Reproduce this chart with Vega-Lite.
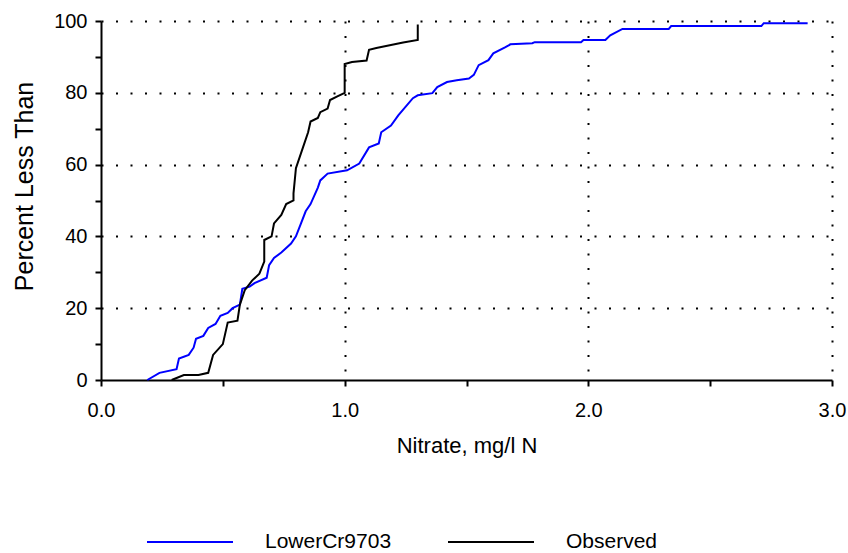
{
  "$schema": "https://vega.github.io/schema/vega-lite/v6.json",
  "width": 731,
  "height": 359,
  "autosize": "none",
  "padding": {"left": 101, "top": 21, "right": 16, "bottom": 173},
  "background": "white",
  "config": {
    "view": {"stroke": null},
    "font": "Liberation Sans",
    "axis": {
      "domainColor": "black",
      "domainWidth": 2,
      "tickColor": "black",
      "tickWidth": 2,
      "tickSize": 6,
      "labelColor": "black",
      "titleColor": "black",
      "labelFont": "Liberation Sans",
      "titleFont": "Liberation Sans",
      "labelFontSize": 20,
      "titleFontWeight": "normal",
      "gridColor": "black",
      "gridWidth": 2,
      "gridDash": [2, 12.5]
    }
  },
  "data": {
    "values": [
      {"series": "LowerCr9703", "x": 0.19, "y": 0},
      {"series": "LowerCr9703", "x": 0.24, "y": 2},
      {"series": "LowerCr9703", "x": 0.31, "y": 3},
      {"series": "LowerCr9703", "x": 0.32, "y": 6},
      {"series": "LowerCr9703", "x": 0.36, "y": 7},
      {"series": "LowerCr9703", "x": 0.38, "y": 9},
      {"series": "LowerCr9703", "x": 0.39, "y": 11.5},
      {"series": "LowerCr9703", "x": 0.42, "y": 12.3},
      {"series": "LowerCr9703", "x": 0.44, "y": 14.5},
      {"series": "LowerCr9703", "x": 0.47, "y": 15.6},
      {"series": "LowerCr9703", "x": 0.49, "y": 17.9},
      {"series": "LowerCr9703", "x": 0.52, "y": 18.7},
      {"series": "LowerCr9703", "x": 0.54, "y": 20},
      {"series": "LowerCr9703", "x": 0.57, "y": 21},
      {"series": "LowerCr9703", "x": 0.58, "y": 25.4},
      {"series": "LowerCr9703", "x": 0.61, "y": 26},
      {"series": "LowerCr9703", "x": 0.63, "y": 27},
      {"series": "LowerCr9703", "x": 0.68, "y": 28.5},
      {"series": "LowerCr9703", "x": 0.69, "y": 32},
      {"series": "LowerCr9703", "x": 0.71, "y": 34},
      {"series": "LowerCr9703", "x": 0.74, "y": 35.5},
      {"series": "LowerCr9703", "x": 0.78, "y": 38},
      {"series": "LowerCr9703", "x": 0.80, "y": 40},
      {"series": "LowerCr9703", "x": 0.82, "y": 43.5},
      {"series": "LowerCr9703", "x": 0.84, "y": 47},
      {"series": "LowerCr9703", "x": 0.86, "y": 49},
      {"series": "LowerCr9703", "x": 0.89, "y": 53.6},
      {"series": "LowerCr9703", "x": 0.90, "y": 55.6},
      {"series": "LowerCr9703", "x": 0.93, "y": 57.5},
      {"series": "LowerCr9703", "x": 1.01, "y": 58.4},
      {"series": "LowerCr9703", "x": 1.06, "y": 60.3},
      {"series": "LowerCr9703", "x": 1.10, "y": 64.8},
      {"series": "LowerCr9703", "x": 1.14, "y": 65.9},
      {"series": "LowerCr9703", "x": 1.15, "y": 69},
      {"series": "LowerCr9703", "x": 1.19, "y": 70.9},
      {"series": "LowerCr9703", "x": 1.22, "y": 73.7},
      {"series": "LowerCr9703", "x": 1.28, "y": 78.5},
      {"series": "LowerCr9703", "x": 1.30, "y": 79.3},
      {"series": "LowerCr9703", "x": 1.36, "y": 79.9},
      {"series": "LowerCr9703", "x": 1.38, "y": 81.6},
      {"series": "LowerCr9703", "x": 1.42, "y": 83},
      {"series": "LowerCr9703", "x": 1.46, "y": 83.5},
      {"series": "LowerCr9703", "x": 1.51, "y": 84},
      {"series": "LowerCr9703", "x": 1.53, "y": 85},
      {"series": "LowerCr9703", "x": 1.55, "y": 87.7},
      {"series": "LowerCr9703", "x": 1.59, "y": 89.1},
      {"series": "LowerCr9703", "x": 1.61, "y": 91},
      {"series": "LowerCr9703", "x": 1.66, "y": 92.7},
      {"series": "LowerCr9703", "x": 1.68, "y": 93.5},
      {"series": "LowerCr9703", "x": 1.77, "y": 93.8},
      {"series": "LowerCr9703", "x": 1.78, "y": 94.1},
      {"series": "LowerCr9703", "x": 1.97, "y": 94.1},
      {"series": "LowerCr9703", "x": 1.98, "y": 94.7},
      {"series": "LowerCr9703", "x": 2.07, "y": 94.7},
      {"series": "LowerCr9703", "x": 2.09, "y": 96},
      {"series": "LowerCr9703", "x": 2.14, "y": 97.8},
      {"series": "LowerCr9703", "x": 2.33, "y": 97.8},
      {"series": "LowerCr9703", "x": 2.34, "y": 98.6},
      {"series": "LowerCr9703", "x": 2.71, "y": 98.6},
      {"series": "LowerCr9703", "x": 2.72, "y": 99.4},
      {"series": "LowerCr9703", "x": 2.90, "y": 99.4},
      {"series": "Observed", "x": 0.29, "y": 0},
      {"series": "Observed", "x": 0.34, "y": 1.4},
      {"series": "Observed", "x": 0.40, "y": 1.4},
      {"series": "Observed", "x": 0.44, "y": 2},
      {"series": "Observed", "x": 0.46, "y": 7},
      {"series": "Observed", "x": 0.50, "y": 10},
      {"series": "Observed", "x": 0.52, "y": 16},
      {"series": "Observed", "x": 0.56, "y": 16.5},
      {"series": "Observed", "x": 0.57, "y": 21},
      {"series": "Observed", "x": 0.59, "y": 25},
      {"series": "Observed", "x": 0.62, "y": 27.7},
      {"series": "Observed", "x": 0.65, "y": 29.6},
      {"series": "Observed", "x": 0.67, "y": 33},
      {"series": "Observed", "x": 0.67, "y": 39},
      {"series": "Observed", "x": 0.70, "y": 40},
      {"series": "Observed", "x": 0.71, "y": 43.6},
      {"series": "Observed", "x": 0.74, "y": 46},
      {"series": "Observed", "x": 0.76, "y": 49},
      {"series": "Observed", "x": 0.79, "y": 50},
      {"series": "Observed", "x": 0.79, "y": 52},
      {"series": "Observed", "x": 0.80, "y": 59},
      {"series": "Observed", "x": 0.83, "y": 65},
      {"series": "Observed", "x": 0.85, "y": 69},
      {"series": "Observed", "x": 0.86, "y": 72},
      {"series": "Observed", "x": 0.89, "y": 73},
      {"series": "Observed", "x": 0.90, "y": 74.6},
      {"series": "Observed", "x": 0.93, "y": 75.6},
      {"series": "Observed", "x": 0.94, "y": 78},
      {"series": "Observed", "x": 0.97, "y": 79},
      {"series": "Observed", "x": 1.00, "y": 80},
      {"series": "Observed", "x": 1.00, "y": 88},
      {"series": "Observed", "x": 1.03, "y": 88.6},
      {"series": "Observed", "x": 1.09, "y": 89},
      {"series": "Observed", "x": 1.10, "y": 92},
      {"series": "Observed", "x": 1.13, "y": 92.5},
      {"series": "Observed", "x": 1.19, "y": 93.3},
      {"series": "Observed", "x": 1.24, "y": 94},
      {"series": "Observed", "x": 1.30, "y": 94.7},
      {"series": "Observed", "x": 1.30, "y": 99}
    ]
  },
  "mark": {"type": "line", "strokeWidth": 2, "interpolate": "linear"},
  "encoding": {
    "x": {
      "field": "x",
      "type": "quantitative",
      "scale": {"domain": [0, 3], "nice": false, "zero": false},
      "axis": {
        "title": "Nitrate, mg/l N",
        "titleFontSize": 22,
        "titlePadding": 15,
        "values": [0, 0.5, 1, 1.5, 2, 2.5, 3],
        "labelExpr": "datum.value % 1 === 0 ? format(datum.value, '.1f') : ''",
        "labelPadding": 14,
        "labelFlush": false,
        "labelOverlap": false,
        "gridOpacity": {"condition": {"test": "datum.value % 1 === 0 && datum.value > 0", "value": 1}, "value": 0}
      }
    },
    "y": {
      "field": "y",
      "type": "quantitative",
      "scale": {"domain": [0, 100], "nice": false},
      "axis": {
        "title": "Percent Less Than",
        "titleFontSize": 25,
        "titlePadding": 16,
        "titleY": 165,
        "values": [0, 10, 20, 30, 40, 50, 60, 70, 80, 90, 100],
        "labelExpr": "datum.value % 20 === 0 ? format(datum.value, 'd') : ''",
        "labelPadding": 8,
        "labelOverlap": false,
        "gridOpacity": {"condition": {"test": "datum.value % 20 === 0 && datum.value > 0", "value": 1}, "value": 0}
      }
    },
    "color": {
      "field": "series",
      "type": "nominal",
      "scale": {"domain": ["LowerCr9703", "Observed"], "range": ["#0000ff", "#000000"]},
      "legend": {
        "title": null,
        "orient": "none",
        "direction": "horizontal",
        "legendX": 45,
        "legendY": 477,
        "symbolType": "stroke",
        "symbolSize": 7396,
        "symbolStrokeWidth": 2,
        "labelFontSize": 21,
        "labelFont": "Liberation Sans",
        "labelColor": "black",
        "labelOffset": 31,
        "columnPadding": 52,
        "padding": 0
      }
    },
    "order": {"value": null}
  }
}
